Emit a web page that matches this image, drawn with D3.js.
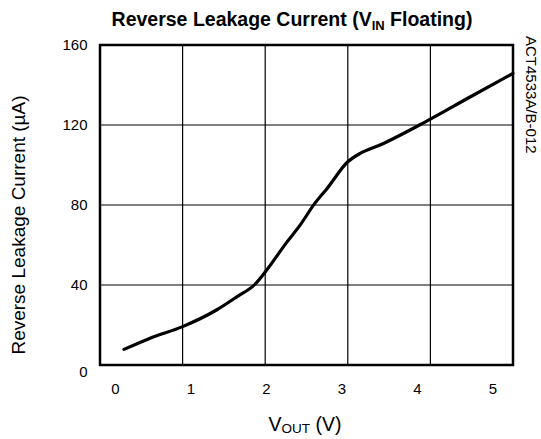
<!DOCTYPE html>
<html><head><meta charset="utf-8">
<script src="https://cdn.jsdelivr.net/npm/d3@7"></script>
<style>body{margin:0;background:#fff}svg{display:block}text{font-family:"Liberation Sans",Arial,sans-serif;fill:#000}</style>
</head><body><svg id="c" width="541" height="439"></svg>
<script>
// V_OUT (V) and reverse leakage current (µA)
const vout = [0.29,0.6,1.0,1.41,1.66,1.88,2.0,2.26,2.42,2.6,2.75,3.0,3.15,3.39,3.94,4.48,5.0];
const ileak = [7.8,13.3,19.2,27.5,34.2,40.5,46.5,61.3,69.8,80.8,88.3,101.6,105.8,110,121.6,134,145.8];
const xTicks = [0,1,2,3,4,5];
const yTicks = [0,40,80,120,160];

const svg = d3.select("#c");
const L=100,R=513,T=45,B=365;
const x = d3.scaleLinear().domain([0,5]).range([L,R]);
const y = d3.scaleLinear().domain([0,160]).range([B,T]);
const xLab = d3.scaleLinear().domain([0,5]).range([115,492.5]);

// grid
svg.append("g").selectAll("line").data(xTicks.slice(1,-1)).join("line")
  .attr("x1",d=>x(d)).attr("x2",d=>x(d)).attr("y1",T).attr("y2",B)
  .attr("stroke","#000").attr("stroke-width",1.2);
svg.append("g").selectAll("line").data(yTicks.slice(1,-1)).join("line")
  .attr("y1",d=>y(d)).attr("y2",d=>y(d)).attr("x1",L).attr("x2",R)
  .attr("stroke","#000").attr("stroke-width",1.2);
svg.append("rect").attr("x",L).attr("y",T).attr("width",R-L).attr("height",B-T)
  .attr("fill","none").attr("stroke","#000").attr("stroke-width",2.5);

// curve
svg.append("path").datum(vout.map((v,i)=>[v,ileak[i]]))
  .attr("d",d3.line().x(d=>x(d[0])).y(d=>y(d[1])).curve(d3.curveMonotoneX))
  .attr("fill","none").attr("stroke","#000").attr("stroke-width",3.2).attr("stroke-linejoin","round").attr("stroke-linecap","round");

// axes labels
const xa = svg.append("g").attr("transform",`translate(0,${B})`)
  .call(d3.axisBottom(xLab).tickValues(xTicks).tickSize(0).tickPadding(18).tickFormat(d3.format("d")));
xa.select(".domain").remove();
xa.selectAll("text").attr("font-size",15).style("font-family","Liberation Sans, Arial, sans-serif");
const ya = svg.append("g").attr("transform",`translate(${L},0)`)
  .call(d3.axisLeft(y).tickValues(yTicks).tickSize(0).tickPadding(12.5));
ya.select(".domain").remove();
ya.selectAll("text").attr("font-size",15).style("font-family","Liberation Sans, Arial, sans-serif")
  .attr("dy",d=>d===0?"0.76em":"0.32em");

// titles
const t = svg.append("text").attr("x",292).attr("y",26).attr("text-anchor","middle")
  .attr("font-size",19.5).attr("font-weight","bold");
t.append("tspan").text("Reverse Leakage Current (V");
t.append("tspan").text("IN").attr("font-size",13).attr("dy",4);
t.append("tspan").text(" Floating)").attr("dy",-4);

svg.append("text").attr("transform","translate(25,225) rotate(-90)").attr("text-anchor","middle")
  .attr("font-size",19).text("Reverse Leakage Current (µA)");

const xt = svg.append("text").attr("x",305).attr("y",431).attr("text-anchor","middle").attr("font-size",19.5);
xt.append("tspan").text("V");
xt.append("tspan").text("OUT").attr("font-size",13.5).attr("dy",2);
xt.append("tspan").text(" (V)").attr("dy",-2);

svg.append("text").attr("transform","translate(526,36) rotate(90)").attr("text-anchor","start")
  .attr("font-size",15).text("ACT4533A/B-012");
</script></body></html>
